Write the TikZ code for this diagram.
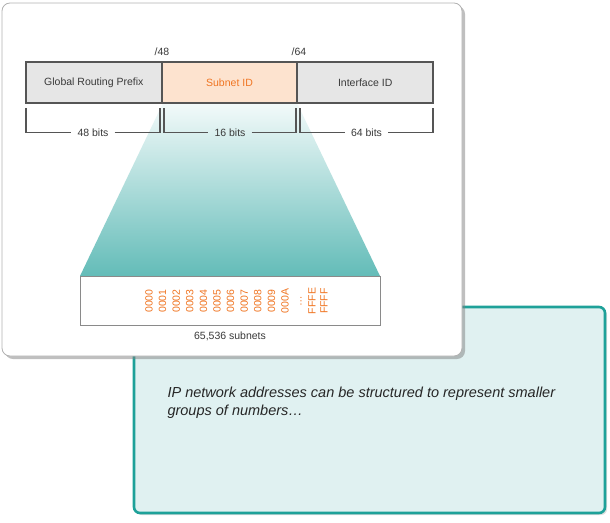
\documentclass[tikz,border=0pt]{standalone}
\usepackage{fontspec}
\setmainfont{Liberation Sans}
\usetikzlibrary{positioning,shadows}
\definecolor{barline}{HTML}{555555}
\definecolor{labtext}{HTML}{3A3A3A}
\definecolor{seggray}{HTML}{E6E6E6}
\definecolor{segpeach}{HTML}{FDE3CF}
\definecolor{hexorange}{HTML}{F07522}
\definecolor{boxgray}{HTML}{8A8A8A}
\definecolor{noteteal}{HTML}{1EA199}
\definecolor{notefill}{HTML}{E0F1F1}
\definecolor{fantop}{HTML}{F3FAFA}
\definecolor{fanmid}{HTML}{C6E7E5}
\definecolor{fanbot}{HTML}{63BCB8}

\begin{document}
\begin{tikzpicture}[x=1pt,y=-1pt,
  lab/.style={font=\fontsize{10.5}{12}\selectfont,text=labtext},
  seg/.style={lab,draw=barline,line width=1.8pt,minimum width=135.7pt,minimum height=41pt,inner sep=0pt,outer sep=0pt},
  hex/.style={font=\fontsize{10.5}{12}\selectfont,text=hexorange,rotate=90,inner sep=0pt},
  brk/.style={draw=barline,line width=1.2pt}]
\useasboundingbox (0,0) rectangle (610,522);
% note panel behind
\draw[draw=noteteal,line width=2.6pt,fill=notefill,rounded corners=6pt,
  drop shadow={shadow xshift=2pt,shadow yshift=-2pt,opacity=.25}] (134,307) rectangle (605,513);
\node[anchor=west,align=left,text=black!85,font=\fontsize{14.5}{18.5}\selectfont\itshape] (note) at (164,402.5)
  {IP network addresses can be structured to represent smaller\\groups of numbers\dots};
% main panel
\draw[fill=white,draw=black!30,line width=.8pt,rounded corners=8pt,
  drop shadow={shadow xshift=3pt,shadow yshift=-3pt,opacity=.5}] (2,3) rectangle (462,356);
% fan out of the subnet field
\shade[top color=fantop,middle color=fanmid,bottom color=fanbot] (163,103) -- (297,103) -- (380,276) -- (80,276) -- cycle;
% address fields
\node[seg,fill=seggray] (grp) at (93.8,82.5) {Global Routing Prefix};
\node[seg,fill=segpeach,text=hexorange,right=0pt of grp] (sid) {Subnet ID};
\node[seg,fill=seggray,right=0pt of sid] (iid) {Interface ID};
\node[lab] (p48) at (162,52) {/48};
\node[lab] (p64) at (299,52) {/64};
% brackets
\foreach \n/\a/\b/\t in {b1/26/160/48 bits, b2/164/296/16 bits, b3/300/433/64 bits}{
  \node[lab,inner xsep=6pt] (\n) at ({(\a+\b)/2},132.7) {\t};
  \coordinate (\n-l) at (\a,108);
  \coordinate (\n-r) at (\b,108);
  \draw[brk] (\n-l) |- (\n.west);
  \draw[brk] (\n.east) -| (\n-r);
}
% subnet list
\node[draw=boxgray,fill=white,line width=1pt,minimum width=300pt,minimum height=49pt,inner sep=0pt] (subbox) at (230,300.5) {};
\foreach \h [count=\i from 0] in {0000,0001,0002,0003,0004,0005,0006,0007,0008,0009,000A}
  \node[hex] (h\i) at (149+13.6*\i,301) {\h};
\node[hex] (hdots) at (301,301) {\dots};
\node[hex] (hfffe) at (312,301) {FFFE};
\node[hex] (hffff) at (324,301) {FFFF};
\node[lab] (count) at (230,336) {65,536 subnets};
\end{tikzpicture}
\end{document}
